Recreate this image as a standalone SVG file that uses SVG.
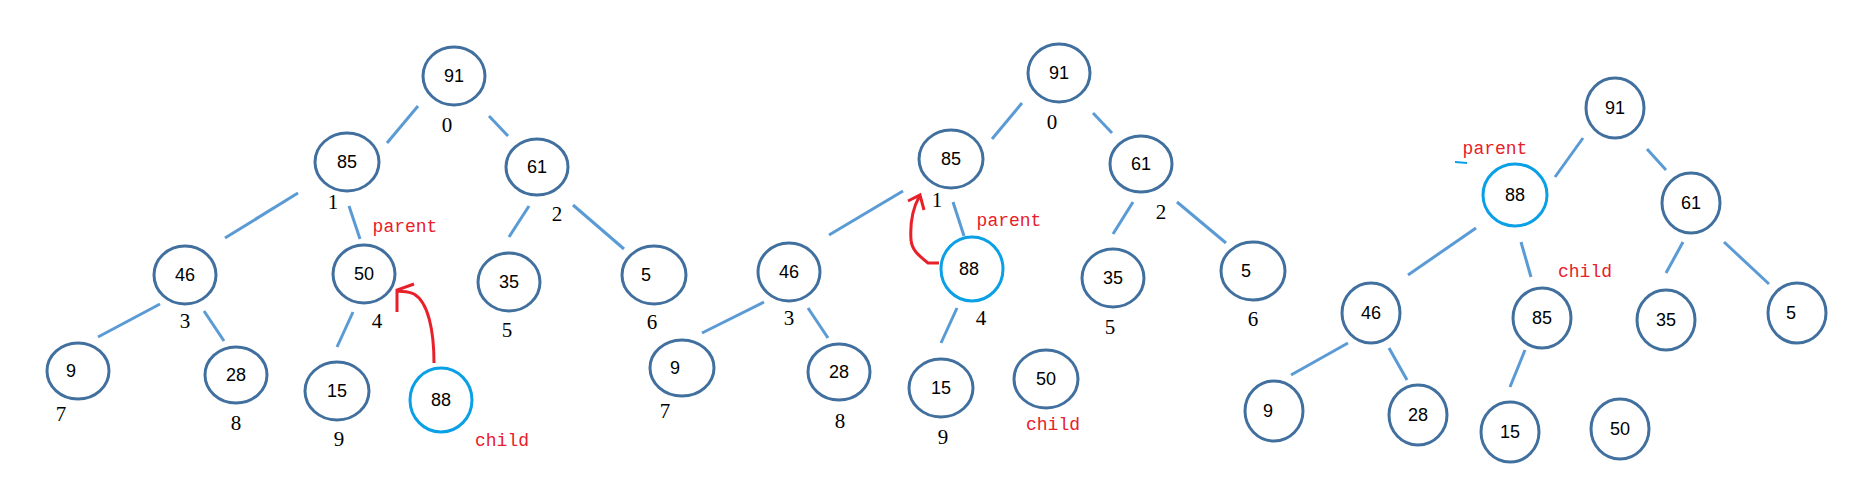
<svg xmlns="http://www.w3.org/2000/svg" width="1851" height="486" viewBox="0 0 1851 486">
<style>
.n{fill:#fff;stroke:#41709f;stroke-width:3}
.h{fill:#fff;stroke:#0aa0e6;stroke-width:3}
.t{font-family:"Liberation Sans",Arial,sans-serif;font-size:18px;fill:#000;text-anchor:middle}
.i{font-family:"Liberation Serif",serif;font-size:21px;fill:#000;text-anchor:middle}
.r{font-family:"Liberation Mono",monospace;font-size:18px;fill:#e8202a;text-anchor:middle}
.e line{stroke:#5b9bd5;stroke-width:3}
.a{fill:none;stroke:#e8202a;stroke-width:3}
</style>
<rect width="1851" height="486" fill="#fff"/>
<g class="e" id="connectors">
<line x1="418" y1="106" x2="387" y2="143"/><line x1="489" y1="116" x2="508" y2="136"/>
<line x1="298" y1="193" x2="225" y2="238"/><line x1="349" y1="206" x2="360" y2="239"/>
<line x1="529" y1="206" x2="509" y2="237"/><line x1="573" y1="205" x2="624" y2="249"/>
<line x1="160" y1="304" x2="98" y2="337"/><line x1="204" y1="311" x2="224" y2="341"/>
<line x1="353" y1="312" x2="337" y2="347"/>
<line x1="1022" y1="103" x2="992" y2="139"/><line x1="1093" y1="113" x2="1112" y2="133"/>
<line x1="903" y1="191" x2="829" y2="235"/><line x1="953" y1="202" x2="964" y2="236"/>
<line x1="1133" y1="202" x2="1113" y2="234"/><line x1="1177" y1="202" x2="1226" y2="243"/>
<line x1="764" y1="302" x2="702" y2="333"/><line x1="808" y1="308" x2="828" y2="338"/>
<line x1="957" y1="308" x2="941" y2="343"/>
<line x1="1583" y1="138" x2="1555" y2="177"/><line x1="1647" y1="149" x2="1666" y2="170"/>
<line x1="1476" y1="228" x2="1408" y2="275"/><line x1="1521" y1="242" x2="1531" y2="277"/>
<line x1="1683" y1="242" x2="1666" y2="273"/><line x1="1724" y1="242" x2="1769" y2="284"/>
<line x1="1348" y1="343" x2="1291" y2="375"/><line x1="1389" y1="348" x2="1407" y2="380"/>
<line x1="1525" y1="350" x2="1510" y2="387"/>
<line x1="1455" y1="162" x2="1467" y2="163" style="stroke:#0aa0e6;stroke-width:2"/>
</g>
<path class="a" d="M434,363 C434,330 428,302 414,294 C408,291 402,292 397,291 M397,312 L397,290 L414,284"/>
<path class="a" d="M939,263 L928,263 C918,255 912,250 911,240 C910,225 912,210 919,197 M908,201 L920,195 L924,210"/>
<g id="p1">
<g id="p1-91"><ellipse class="n" cx="454" cy="76" rx="31" ry="29"/><text class="t" x="454" y="82">91</text></g>
<g id="p1-85"><ellipse class="n" cx="347" cy="162" rx="32" ry="29"/><text class="t" x="347" y="168">85</text></g>
<g id="p1-61"><ellipse class="n" cx="537" cy="167" rx="31" ry="28"/><text class="t" x="537" y="173">61</text></g>
<g id="p1-46"><ellipse class="n" cx="185" cy="275" rx="31" ry="29"/><text class="t" x="185" y="281">46</text></g>
<g id="p1-50"><ellipse class="n" cx="364" cy="274" rx="31" ry="29"/><text class="t" x="364" y="280">50</text></g>
<g id="p1-35"><ellipse class="n" cx="509" cy="282" rx="31" ry="29"/><text class="t" x="509" y="288">35</text></g>
<g id="p1-5"><ellipse class="n" cx="654" cy="275" rx="32" ry="29"/><text class="t" x="646" y="281">5</text></g>
<g id="p1-9"><ellipse class="n" cx="78" cy="371" rx="31" ry="28"/><text class="t" x="71" y="377">9</text></g>
<g id="p1-28"><ellipse class="n" cx="236" cy="375" rx="31" ry="28"/><text class="t" x="236" y="381">28</text></g>
<g id="p1-15"><ellipse class="n" cx="337" cy="391" rx="32" ry="29"/><text class="t" x="337" y="397">15</text></g>
<g id="p1-88"><ellipse class="h" cx="441" cy="400" rx="31" ry="32"/><text class="t" x="441" y="406">88</text></g>
<text class="i" x="447" y="132">0</text><text class="i" x="333" y="209">1</text><text class="i" x="557" y="221">2</text>
<text class="i" x="185" y="328">3</text><text class="i" x="377" y="328">4</text><text class="i" x="507" y="337">5</text>
<text class="i" x="652" y="329">6</text><text class="i" x="61" y="421">7</text><text class="i" x="236" y="430">8</text><text class="i" x="339" y="446">9</text>
<text class="r" x="405" y="232">parent</text><text class="r" x="502" y="446">child</text>
</g>
<g id="p2">
<g id="p2-91"><ellipse class="n" cx="1059" cy="73" rx="31" ry="29"/><text class="t" x="1059" y="79">91</text></g>
<g id="p2-85"><ellipse class="n" cx="951" cy="159" rx="32" ry="29"/><text class="t" x="951" y="165">85</text></g>
<g id="p2-61"><ellipse class="n" cx="1141" cy="164" rx="31" ry="28"/><text class="t" x="1141" y="170">61</text></g>
<g id="p2-46"><ellipse class="n" cx="789" cy="272" rx="31" ry="29"/><text class="t" x="789" y="278">46</text></g>
<g id="p2-88"><ellipse class="h" cx="972" cy="269" rx="31" ry="32"/><text class="t" x="969" y="275">88</text></g>
<g id="p2-35"><ellipse class="n" cx="1113" cy="278" rx="31" ry="29"/><text class="t" x="1113" y="284">35</text></g>
<g id="p2-5"><ellipse class="n" cx="1253" cy="271" rx="32" ry="29"/><text class="t" x="1246" y="277">5</text></g>
<g id="p2-9"><ellipse class="n" cx="682" cy="368" rx="32" ry="28"/><text class="t" x="675" y="374">9</text></g>
<g id="p2-28"><ellipse class="n" cx="839" cy="372" rx="31" ry="28"/><text class="t" x="839" y="378">28</text></g>
<g id="p2-15"><ellipse class="n" cx="941" cy="388" rx="32" ry="29"/><text class="t" x="941" y="394">15</text></g>
<g id="p2-50"><ellipse class="n" cx="1046" cy="379" rx="32" ry="29"/><text class="t" x="1046" y="385">50</text></g>
<text class="i" x="1052" y="129">0</text><text class="i" x="937" y="207">1</text><text class="i" x="1161" y="219">2</text>
<text class="i" x="789" y="325">3</text><text class="i" x="981" y="325">4</text><text class="i" x="1110" y="334">5</text>
<text class="i" x="1253" y="326">6</text><text class="i" x="665" y="418">7</text><text class="i" x="840" y="428">8</text><text class="i" x="943" y="444">9</text>
<text class="r" x="1009" y="226">parent</text><text class="r" x="1053" y="430">child</text>
</g>
<g id="p3">
<g id="p3-91"><ellipse class="n" cx="1615" cy="108" rx="29" ry="30"/><text class="t" x="1615" y="114">91</text></g>
<g id="p3-88"><ellipse class="h" cx="1515" cy="195" rx="32" ry="31"/><text class="t" x="1515" y="201">88</text></g>
<g id="p3-61"><ellipse class="n" cx="1691" cy="203" rx="29" ry="30"/><text class="t" x="1691" y="209">61</text></g>
<g id="p3-46"><ellipse class="n" cx="1371" cy="313" rx="29" ry="30"/><text class="t" x="1371" y="319">46</text></g>
<g id="p3-85"><ellipse class="n" cx="1542" cy="318" rx="29" ry="30"/><text class="t" x="1542" y="324">85</text></g>
<g id="p3-35"><ellipse class="n" cx="1666" cy="320" rx="29" ry="30"/><text class="t" x="1666" y="326">35</text></g>
<g id="p3-5"><ellipse class="n" cx="1797" cy="313" rx="29" ry="30"/><text class="t" x="1791" y="319">5</text></g>
<g id="p3-9"><ellipse class="n" cx="1274" cy="411" rx="29" ry="30"/><text class="t" x="1268" y="417">9</text></g>
<g id="p3-28"><ellipse class="n" cx="1418" cy="415" rx="29" ry="30"/><text class="t" x="1418" y="421">28</text></g>
<g id="p3-15"><ellipse class="n" cx="1510" cy="432" rx="29" ry="30"/><text class="t" x="1510" y="438">15</text></g>
<g id="p3-50"><ellipse class="n" cx="1620" cy="429" rx="29" ry="30"/><text class="t" x="1620" y="435">50</text></g>
<text class="r" x="1495" y="154">parent</text><text class="r" x="1585" y="277">child</text>
</g>
</svg>
